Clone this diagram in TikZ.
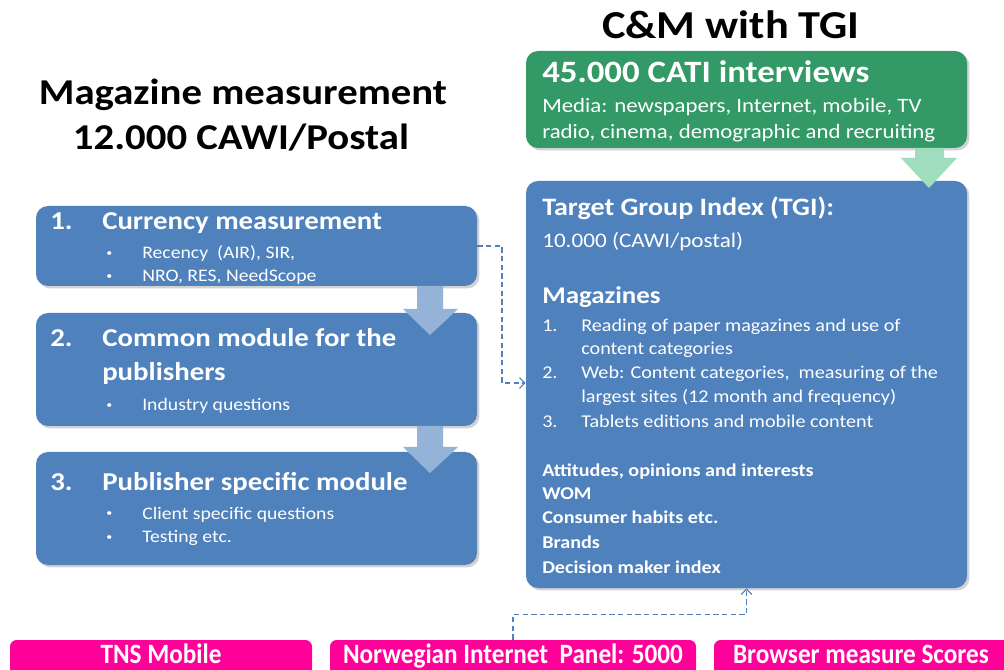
\documentclass[tikz,border=0pt]{standalone}
\usepackage{fontspec}
\setmainfont{Carlito}[FakeStretch=1.12]
\newfontfamily\pinkfont{Carlito}[FakeStretch=0.9]
\usetikzlibrary{fit,shadows,arrows.meta}
\definecolor{boxblue}{HTML}{4F81BD}
\definecolor{arrblue}{HTML}{95B3D7}
\definecolor{boxgreen}{HTML}{339966}
\definecolor{arrgreen}{HTML}{A0DDBE}
\definecolor{tnspink}{HTML}{FF0099}
\tikzset{
  bluebox/.style={fill=boxblue, rounded corners=9pt, inner sep=0pt,
    drop shadow={shadow xshift=1.8pt, shadow yshift=-1.8pt, opacity=0.35}},
  greenbox/.style={fill=boxgreen, rounded corners=9pt, inner sep=0pt,
    drop shadow={shadow xshift=1.8pt, shadow yshift=-1.8pt, opacity=0.35}},
  pinkbox/.style={fill=tnspink, rounded corners=5pt, inner sep=0pt},
  wt/.style={anchor=base west, inner sep=0pt, text=white},
  headt/.style={wt, font=\fontsize{19.3}{23}\selectfont\bfseries},
  bullt/.style={wt, font=\fontsize{13.2}{16}\selectfont},
  dott/.style={wt, font=\fontsize{8}{10}\selectfont},
  listt/.style={wt, font=\fontsize{13.5}{16}\selectfont},
  boldlt/.style={wt, font=\fontsize{13.5}{16}\selectfont\bfseries},
  titlet/.style={anchor=base, inner sep=0pt, text=black, font=\fontsize{27.3}{32}\selectfont\bfseries},
  pinkt/.style={anchor=base, inner sep=0pt, text=white, font=\pinkfont\fontsize{21}{25}\selectfont\bfseries},
  dashconn/.style={draw=boxblue, line width=0.9pt, dash pattern=on 4pt off 2.5pt,
    -{Straight Barb[length=4pt, width=8pt, line width=0.9pt]}},
}
\begin{document}
\begin{tikzpicture}[x=0.75pt,y=-0.75pt]
\clip (0,0) rectangle (1004,670);
\fill[white] (0,0) rectangle (1004,670);

% titles
\node[titlet] (t1) at (243,105) {Magazine measurement};
\node[titlet] (t2) at (241,150) {12.000 CAWI/Postal};
\node[titlet, font=\fontsize{29.7}{34}\selectfont\bfseries] (t3) at (731,39) {C\&M with TGI};

% boxes
\node[bluebox, fit={(36,206)(477,286)}] (b1) {};
\node[bluebox, fit={(36,313)(477,426)}] (b2) {};
\node[bluebox, fit={(36,452)(477,565)}] (b3) {};
\node[greenbox, fit={(526,51)(967,148)}] (g) {};
\node[bluebox, fit={(526,181)(967,588)}] (tgi) {};

% block arrows
\fill[arrblue] (417,286) -- (443,286) -- (443,309) -- (458,309) -- (430,335) -- (403,309) -- (417,309) -- cycle;
\fill[arrblue] (417,426) -- (443,426) -- (443,447) -- (458,447) -- (430,473) -- (403,447) -- (417,447) -- cycle;
\fill[arrgreen] (915,148) -- (944,148) -- (944,158) -- (957,158) -- (929,188) -- (901,158) -- (915,158) -- cycle;

% box 1
\node[headt] (b1n) at (50,230) {1.};
\node[headt] (b1h) at (102,230) {Currency measurement};
\node[dott] (b1d1) at (106,257) {•};
\node[bullt] (b1l1) at (142,259) {Recency\ \ (AIR), SIR,};
\node[dott] (b1d2) at (106,280) {•};
\node[bullt] (b1l2) at (142,282) {NRO, RES, NeedScope};

% box 2
\node[headt] (b2n) at (50,347) {2.};
\node[headt] (b2h) at (102,347) {Common module for the};
\node[headt] (b2h2) at (102,381) {publishers};
\node[dott] (b2d1) at (106,409) {•};
\node[bullt] (b2l1) at (142,411) {Industry questions};

% box 3
\node[headt] (b3n) at (50,490) {3.};
\node[headt] (b3h) at (102,490) {Publisher specific module};
\node[dott] (b3d1) at (106,517) {•};
\node[bullt] (b3l1) at (142,519) {Client specific questions};
\node[dott] (b3d2) at (106,540) {•};
\node[bullt] (b3l2) at (142,542) {Testing etc.};

% green box
\node[wt, font=\fontsize{23.3}{28}\selectfont\bfseries] (g1) at (542,83) {45.000 CATI interviews};
\node[wt, font=\fontsize{15.3}{18}\selectfont] (g2) at (542,113) {Media: newspapers, Internet, mobile, TV};
\node[wt, font=\fontsize{15.3}{18}\selectfont] (g3) at (542,139) {radio, cinema, demographic and recruiting};

% TGI box
\node[wt, font=\fontsize{18.8}{22}\selectfont\bfseries] (x1) at (542,216) {Target Group Index (TGI):};
\node[wt, font=\fontsize{15.5}{18}\selectfont] (x2) at (542,248) {10.000 (CAWI/postal)};
\node[wt, font=\fontsize{18}{22}\selectfont\bfseries] (x3) at (542,304) {Magazines};
\node[listt] (n1) at (542,332) {1.};
\node[listt] (l1) at (581,332) {Reading of paper magazines and use of};
\node[listt] (l1b) at (581,355) {content categories};
\node[listt] (n2) at (542,379) {2.};
\node[listt] (l2) at (581,379) {Web: Content categories,\ \ measuring of the};
\node[listt] (l2b) at (581,403) {largest sites (12 month and frequency)};
\node[listt] (n3) at (542,428) {3.};
\node[listt] (l3) at (581,428) {Tablets editions and mobile content};
\node[boldlt] (a1) at (542,476) {Attitudes, opinions and interests};
\node[boldlt] (a2) at (542,499) {WOM};
\node[boldlt] (a3) at (542,523) {Consumer habits etc.};
\node[boldlt] (a4) at (542,548) {Brands};
\node[boldlt] (a5) at (542,573) {Decision maker index};

% pink boxes
\node[pinkbox, fit={(10,640)(312,700)}] (pA) {};
\node[pinkbox, fit={(330,640)(696,700)}] (pB) {};
\node[pinkbox, fit={(714,640)(1012,700)}] (pC) {};
\node[pinkt] (pAt) at (161,663) {TNS Mobile};
\node[pinkt] (pBt) at (513,663) {Norwegian Internet\ \ Panel: 5000};
\node[pinkt] (pCt) at (861,663) {Browser measure Scores};

% dashed connectors
\coordinate (j1) at (502,383);
\draw[dashconn] (b1.east) -| (j1) -- (j1 -| tgi.west);
\draw[dashconn] (pB.north) -- ++(0,-25) -| (tgi.south);
\end{tikzpicture}
\end{document}
